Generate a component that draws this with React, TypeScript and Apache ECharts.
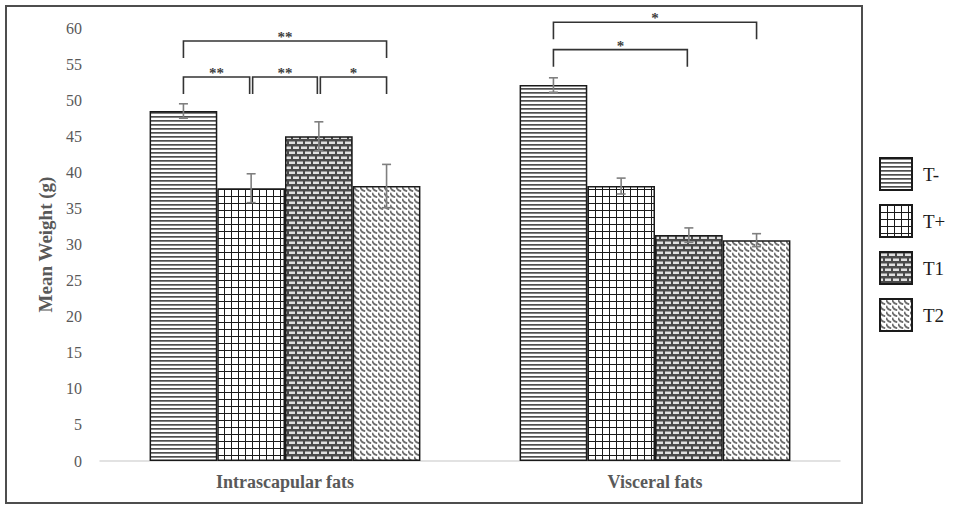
import React, { useEffect, useRef } from "react";
import * as echarts from "echarts";

const categories = ["Intrascapular fats", "Visceral fats"];
const groups = ["T-", "T+", "T1", "T2"];
const tMinus = [48.5, 52.1];
const tPlus = [37.8, 38.1];
const t1 = [45.0, 31.3];
const t2 = [38.1, 30.6];
const tMinusErr = [1.0, 1.0];
const tPlusErr = [2.0, 1.1];
const t1Err = [2.0, 1.0];
const t2Err = [3.0, 0.9];
const yTicks = { min: 0, max: 60, interval: 5 };

const sigCategory = [0, 0, 0, 0, 1, 1];
const sigFrom = [0, 0, 1, 2, 0, 0];
const sigTo = [3, 1, 2, 3, 3, 2];
const sigLevel = [58.2, 53.2, 53.2, 53.2, 60.8, 57.0];
const sigLabel = ["**", "**", "**", "*", "*", "*"];

const CAT_GAP = 0.268;
const FONT = "'Liberation Serif', 'DejaVu Serif', serif";

function makeTile(w: number, h: number, draw: (c: CanvasRenderingContext2D) => void) {
  const cv = document.createElement("canvas");
  cv.width = w;
  cv.height = h;
  const c = cv.getContext("2d")!;
  c.fillStyle = "#ffffff";
  c.fillRect(0, 0, w, h);
  draw(c);
  return cv;
}

function patterns() {
  const horiz = makeTile(4, 4, (c) => {
    c.fillStyle = "#4f4f4f";
    c.fillRect(0, 0, 4, 1.7);
  });
  const grid = makeTile(7, 7, (c) => {
    c.fillStyle = "#1a1a1a";
    c.fillRect(0, 0, 7, 1);
    c.fillRect(0, 0, 1, 7);
  });
  const brick = makeTile(8, 10, (c) => {
    c.fillStyle = "#4a4a4a";
    c.fillRect(0, 0, 8, 10);
    c.fillStyle = "#e0e0e0";
    c.fillRect(1, 1.5, 6, 2.5);
    c.fillRect(5, 6.5, 6, 2.5);
    c.fillRect(-3, 6.5, 6, 2.5);
  });
  const wave = makeTile(6, 6, (c) => {
    c.strokeStyle = "#6e6e6e";
    c.lineWidth = 1.8;
    c.beginPath();
    c.moveTo(0.3, 0.8);
    c.quadraticCurveTo(1.2, 4.8, 5.2, 5.2);
    c.stroke();
  });
  return [horiz, grid, brick, wave];
}

export default function App() {
  const ref = useRef<HTMLDivElement>(null);
  useEffect(() => {
    if (!ref.current) return;
    const chart = echarts.init(ref.current, undefined, { renderer: "svg" });
    const pats = patterns();
    const values = [tMinus, tPlus, t1, t2];
    const errs = [tMinusErr, tPlusErr, t1Err, t2Err];

    const barX = (api: any, cat: number, gi: number) => {
      const c = api.coord([cat, 0]);
      const bandW = api.size([1, 0])[0];
      const barW = (bandW * (1 - CAT_GAP)) / groups.length;
      return c[0] - (groups.length / 2) * barW + (gi + 0.5) * barW;
    };

    const barSeries: any[] = groups.map((g, gi) => ({
      name: g,
      type: "bar",
      data: values[gi],
      barGap: "0%",
      barCategoryGap: CAT_GAP * 100 + "%",
      itemStyle: {
        color: { image: pats[gi], repeat: "repeat" },
        borderColor: "#1a1a1a",
        borderWidth: 1.5,
      },
      z: 2,
    }));

    const errSeries: any[] = groups.map((g, gi) => ({
      type: "custom",
      name: g + " err",
      data: values[gi].map((v, ci) => [ci, v, errs[gi][ci]]),
      encode: { x: 0, y: 1 },
      z: 5,
      silent: true,
      renderItem: (params: any, api: any) => {
        const cat = api.value(0);
        const m = api.value(1);
        const e = api.value(2);
        const x = barX(api, cat, gi);
        const yT = api.coord([cat, m + e])[1];
        const yB = api.coord([cat, m - e])[1];
        const st = { stroke: "#7f7f7f", lineWidth: 1.6 };
        return {
          type: "group",
          children: [
            { type: "line", shape: { x1: x, y1: yT, x2: x, y2: yB }, style: st },
            { type: "line", shape: { x1: x - 4.5, y1: yT, x2: x + 4.5, y2: yT }, style: st },
            { type: "line", shape: { x1: x - 4.5, y1: yB, x2: x + 4.5, y2: yB }, style: st },
          ],
        };
      },
    }));

    const sigSeries: any = {
      type: "custom",
      name: "significance",
      data: sigCategory.map((c, i) => [c, sigLevel[i], sigFrom[i], sigTo[i]]),
      encode: { x: 0, y: 1 },
      z: 6,
      silent: true,
      clip: false,
      renderItem: (params: any, api: any) => {
        const i = params.dataIndex;
        const cat = api.value(0);
        const lvl = api.value(1);
        const f = api.value(2);
        const t = api.value(3);
        const xa = barX(api, cat, f) + (f > 0 ? 1.5 : 0);
        const xb = barX(api, cat, t) - (t < groups.length - 1 ? 1.5 : 0);
        const y = api.coord([cat, lvl])[1];
        const leg = 17;
        const st = { stroke: "#333333", lineWidth: 1.6, fill: "none" };
        return {
          type: "group",
          children: [
            {
              type: "polyline",
              shape: { points: [[xa, y + leg], [xa, y], [xb, y], [xb, y + leg]] },
              style: st,
            },
            {
              type: "text",
              style: {
                text: sigLabel[i],
                x: (xa + xb) / 2,
                y: y - 4,
                align: "center",
                verticalAlign: "middle",
                font: "bold 15px " + FONT,
                fill: "#404040",
              },
            },
          ],
        };
      },
    };

    chart.setOption({
      animation: false,
      backgroundColor: "#ffffff",
      grid: { left: 100, right: 114, top: 28, bottom: 45, containLabel: false },
      legend: {
        data: groups,
        orient: "vertical",
        left: 879,
        top: 157,
        padding: 0,
        itemWidth: 32,
        itemHeight: 32,
        itemGap: 13,
        icon: "rect",
        selectedMode: false,
        textStyle: { fontFamily: FONT, fontSize: 19, color: "#1a1a1a", padding: [0, 0, 0, 6] },
      },
      xAxis: {
        type: "category",
        data: categories,
        axisTick: { show: false },
        axisLine: { lineStyle: { color: "#d9d9d9", width: 1.5 } },
        axisLabel: {
          fontFamily: FONT,
          fontWeight: "bold",
          fontSize: 18,
          color: "#595959",
          margin: 12,
        },
      },
      yAxis: {
        type: "value",
        min: yTicks.min,
        max: yTicks.max,
        interval: yTicks.interval,
        splitLine: { show: false },
        axisLine: { show: false },
        axisTick: { show: false },
        axisLabel: { fontFamily: FONT, fontSize: 16, color: "#595959", margin: 18 },
        name: "Mean Weight (g)",
        nameLocation: "middle",
        nameGap: 42,
        nameTextStyle: { fontFamily: FONT, fontWeight: "bold", fontSize: 19, color: "#595959" },
      },
      graphic: [
        {
          type: "rect",
          shape: { x: 6, y: 6, width: 856, height: 497 },
          style: { fill: "none", stroke: "#4d4d4d", lineWidth: 2 },
          silent: true,
          z: -1,
        },
      ],
      series: [...barSeries, ...errSeries, sigSeries],
    });
    return () => chart.dispose();
  }, []);
  return (
    <div
      ref={ref}
      style={{ position: "fixed", left: 0, top: 0, width: 954, height: 506 }}
    />
  );
}
